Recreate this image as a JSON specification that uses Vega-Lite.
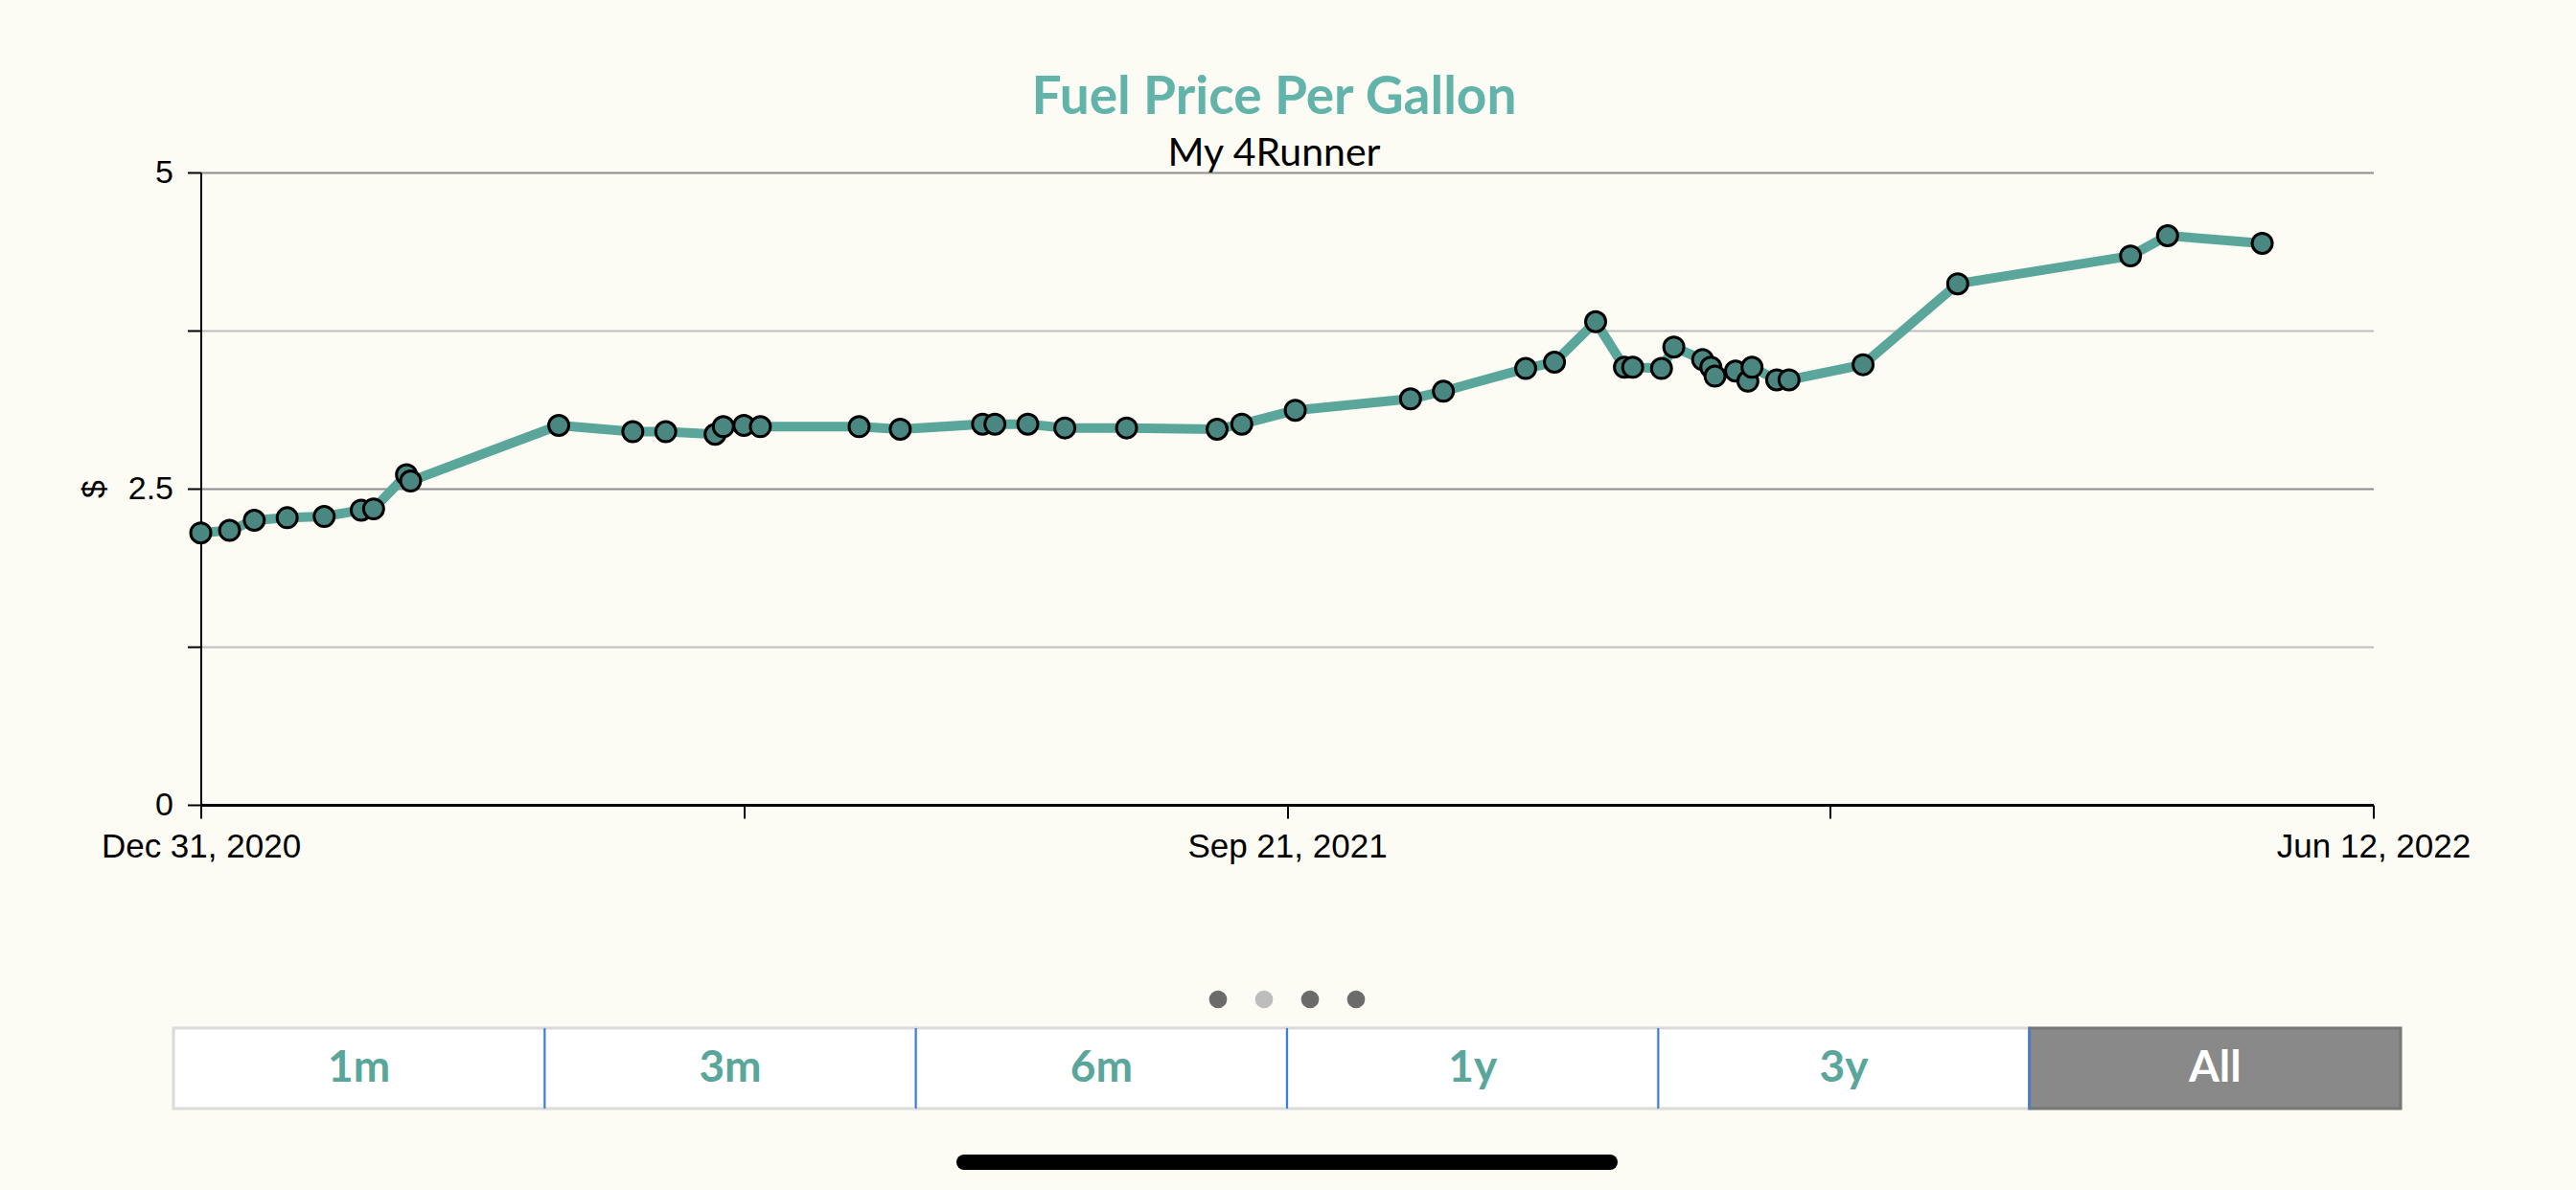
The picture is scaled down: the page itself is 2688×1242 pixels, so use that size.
{
  "$schema": "https://vega.github.io/schema/vega-lite/v6.json",
  "background": "#fcfbf4",
  "padding": {"left": 81, "top": 75, "right": 114, "bottom": 24},
  "config": {"view": {"stroke": null}, "font": "Liberation Sans"},
  "title": {
    "text": "Fuel Price Per Gallon",
    "subtitle": "My 4Runner",
    "font": "Lato",
    "fontSize": 55,
    "fontWeight": "bold",
    "color": "#62b4aa",
    "subtitleFont": "Lato",
    "subtitleFontSize": 41,
    "subtitleColor": "#000000",
    "subtitleFontWeight": "normal",
    "subtitlePadding": 10,
    "anchor": "middle",
    "offset": -19
  },
  "spacing": 30,
  "bounds": "flush",
  "center": true,
  "vconcat": [
    {
      "width": 2267,
      "height": 660,
      "encoding": {
        "x": {
          "field": "date",
          "type": "temporal",
          "scale": {
            "type": "utc",
            "domain": [
              {"year": 2020, "month": 12, "date": 31, "utc": true},
              {"year": 2022, "month": 6, "date": 12, "utc": true}
            ]
          },
          "axis": {
            "values": [
              {"year": 2020, "month": 12, "date": 31, "utc": true},
              {"year": 2021, "month": 5, "date": 12, "utc": true},
              {"year": 2021, "month": 9, "date": 21, "utc": true},
              {"year": 2022, "month": 1, "date": 31, "utc": true},
              {"year": 2022, "month": 6, "date": 12, "utc": true}
            ],
            "labelExpr": "datum.index == 0.25 || datum.index == 0.75 ? '' : utcFormat(datum.value, '%b %d, %Y')",
            "labelOverlap": false,
            "labelFlush": false,
            "labelLimit": 0,
            "labelFontSize": 35,
            "labelColor": "#000000",
            "labelPadding": 12,
            "tickSize": 14,
            "tickWidth": 2,
            "tickColor": "#000000",
            "domainColor": "#000000",
            "domainWidth": 3,
            "grid": false,
            "title": null
          }
        },
        "y": {
          "field": "price",
          "type": "quantitative",
          "title": "$",
          "scale": {"domain": [0, 5], "nice": false},
          "axis": {
            "values": [0, 1.25, 2.5, 3.75, 5],
            "labelExpr": "datum.value == 0 ? '0' : datum.value == 2.5 ? '2.5' : datum.value == 5 ? '5' : ''",
            "grid": true,
            "gridColor": {"condition": {"test": "datum.value == 2.5 || datum.value == 5", "value": "#8c8c8c"}, "value": "#bdbdbd"},
            "gridWidth": 2,
            "tickSize": 14,
            "tickWidth": 2,
            "tickColor": "#000000",
            "domainColor": "#000000",
            "domainWidth": 2,
            "labelFontSize": 34,
            "labelColor": "#000000",
            "labelPadding": 15,
            "titleFontSize": 34,
            "titleFontWeight": "normal",
            "titleColor": "#000000",
            "titlePadding": 18
          }
        }
      },
      "layer": [
        {
          "data": {
            "values": [
              {"date": "2020-12-31", "price": 2.15},
              {"date": "2021-01-07", "price": 2.17},
              {"date": "2021-01-13", "price": 2.25},
              {"date": "2021-01-21", "price": 2.27},
              {"date": "2021-01-30", "price": 2.28},
              {"date": "2021-02-08", "price": 2.33},
              {"date": "2021-02-11", "price": 2.34},
              {"date": "2021-02-19", "price": 2.61},
              {"date": "2021-02-20", "price": 2.56},
              {"date": "2021-03-28", "price": 3.0},
              {"date": "2021-04-15", "price": 2.95},
              {"date": "2021-04-23", "price": 2.95},
              {"date": "2021-05-05", "price": 2.93},
              {"date": "2021-05-07", "price": 2.99},
              {"date": "2021-05-12", "price": 3.0},
              {"date": "2021-05-16", "price": 2.99},
              {"date": "2021-06-09", "price": 2.99},
              {"date": "2021-06-19", "price": 2.97},
              {"date": "2021-07-09", "price": 3.01},
              {"date": "2021-07-12", "price": 3.01},
              {"date": "2021-07-20", "price": 3.01},
              {"date": "2021-07-29", "price": 2.98},
              {"date": "2021-08-13", "price": 2.98},
              {"date": "2021-09-04", "price": 2.97},
              {"date": "2021-09-10", "price": 3.01},
              {"date": "2021-09-23", "price": 3.12},
              {"date": "2021-10-21", "price": 3.21},
              {"date": "2021-10-29", "price": 3.27},
              {"date": "2021-11-18", "price": 3.45},
              {"date": "2021-11-25", "price": 3.5},
              {"date": "2021-12-05", "price": 3.82},
              {"date": "2021-12-12", "price": 3.46},
              {"date": "2021-12-14", "price": 3.46},
              {"date": "2021-12-21", "price": 3.45},
              {"date": "2021-12-24", "price": 3.62},
              {"date": "2021-12-31", "price": 3.52},
              {"date": "2022-01-02", "price": 3.46},
              {"date": "2022-01-03", "price": 3.39},
              {"date": "2022-01-08", "price": 3.43},
              {"date": "2022-01-11", "price": 3.35},
              {"date": "2022-01-12", "price": 3.46},
              {"date": "2022-01-18", "price": 3.36},
              {"date": "2022-01-21", "price": 3.36},
              {"date": "2022-02-08", "price": 3.48},
              {"date": "2022-03-03", "price": 4.12},
              {"date": "2022-04-14", "price": 4.34},
              {"date": "2022-04-23", "price": 4.5},
              {"date": "2022-05-16", "price": 4.44}
            ]
          },
          "layer": [
            {"mark": {"type": "line", "color": "#5aa69b", "strokeWidth": 10, "strokeJoin": "round"}},
            {"mark": {"type": "point", "filled": true, "fill": "#4a8780", "stroke": "#000000", "strokeWidth": 3, "size": 440, "opacity": 1}}
          ]
        },
        {
          "data": {
            "values": [
              {"date": "2020-12-31", "nav": "previous", "glyph": "⟨"},
              {"date": "2022-06-12", "nav": "next", "glyph": "⟩"}
            ]
          },
          "encoding": {
            "y": {"datum": 5.47, "type": "quantitative"},
            "text": {"field": "glyph"}
          },
          "layer": [
            {
              "transform": [{"filter": "datum.nav == 'previous'"}],
              "mark": {"type": "text", "font": "DejaVu Sans", "fontSize": 64, "color": "#62b4aa", "align": "left", "baseline": "middle"}
            },
            {
              "transform": [{"filter": "datum.nav == 'next'"}],
              "mark": {"type": "text", "font": "DejaVu Sans", "fontSize": 64, "color": "#62b4aa", "align": "right", "baseline": "middle"}
            }
          ]
        }
      ]
    },
    {
      "width": 192,
      "height": 173,
      "data": {
        "values": [
          {"page": "1", "current": false},
          {"page": "2", "current": true},
          {"page": "3", "current": false},
          {"page": "4", "current": false}
        ]
      },
      "mark": {"type": "point", "filled": true, "size": 346, "opacity": 1},
      "encoding": {
        "x": {"field": "page", "type": "nominal", "axis": null, "scale": {"type": "point", "padding": 0.5}},
        "y": {"datum": 0, "type": "quantitative", "axis": null, "scale": {"domain": [0, 1]}},
        "color": {"condition": {"test": "datum.current", "value": "#bdbdbd"}, "value": "#6b6b6b"}
      }
    },
    {
      "width": 2324,
      "height": 84,
      "data": {
        "values": [
          {"range": "1m", "selected": false},
          {"range": "3m", "selected": false},
          {"range": "6m", "selected": false},
          {"range": "1y", "selected": false},
          {"range": "3y", "selected": false},
          {"range": "All", "selected": true}
        ]
      },
      "encoding": {
        "x": {
          "field": "range",
          "type": "nominal",
          "sort": null,
          "axis": null,
          "scale": {"domain": ["1m", "3m", "6m", "1y", "3y", "All"], "paddingInner": 0, "paddingOuter": 0}
        }
      },
      "layer": [
        {
          "mark": {"type": "bar", "strokeWidth": 3},
          "encoding": {
            "fill": {"condition": {"test": "datum.selected", "value": "#898989"}, "value": "#ffffff"},
            "stroke": {"condition": {"test": "datum.selected", "value": "#777777"}, "value": "#dadada"}
          }
        },
        {
          "transform": [{"filter": "datum.range != '1m'"}],
          "mark": {"type": "rule", "color": "#3d7fe0", "strokeWidth": 2},
          "encoding": {
            "x": {"field": "range", "type": "nominal", "sort": null, "bandPosition": 0}
          }
        },
        {
          "mark": {"type": "text", "font": "Lato", "fontSize": 46, "fontWeight": "bold"},
          "encoding": {
            "text": {"field": "range"},
            "color": {"condition": {"test": "datum.selected", "value": "#ffffff"}, "value": "#5aa69b"}
          }
        }
      ]
    },
    {
      "width": 674,
      "height": 26,
      "data": {"values": [{"item": "home"}]},
      "mark": {"type": "rule", "color": "#000000", "strokeWidth": 16, "strokeCap": "round"},
      "encoding": {
        "y": {"datum": 0, "type": "quantitative", "axis": null, "scale": {"domain": [0, 1]}}
      }
    }
  ]
}
